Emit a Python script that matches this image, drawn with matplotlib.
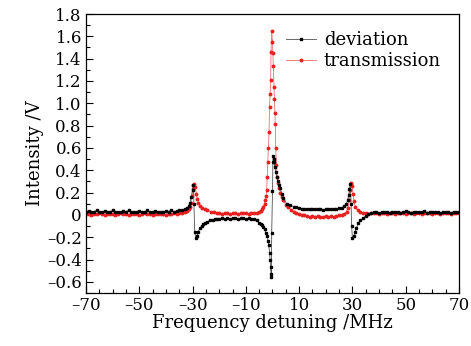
import numpy as np
import matplotlib
matplotlib.use('Agg')
import matplotlib.pyplot as plt
from matplotlib.ticker import MultipleLocator, FuncFormatter

plt.rcParams['font.family'] = 'DejaVu Serif'
plt.rcParams['mathtext.fontset'] = 'dejavuserif'

# deviation signal (black)
dev_x = (list(range(-70, -34))
         + [-34, -33, -32, -31.5, -31, -30.5, -30, -29.7, -29.5, -29.2, -28.8,
            -28.3, -27.9, -27.2, -26.6, -26, -25.3, -24.5, -23.5, -22.5, -21.5]
         + list(range(-21, -7))
         + [-7, -6, -5, -4.5, -4, -3.5, -3, -2.5, -2, -1.7, -1.4, -1.1, -0.9, -0.7,
            -0.55, -0.45, -0.3, 0.0, 0.15, 0.3, 0.45, 0.6, 0.9, 1.2, 1.6, 2.0, 2.4,
            2.8, 3.5, 4.1, 5.3, 6.5, 8, 9]
         + list(range(10, 25))
         + [25, 26, 27, 27.7, 28.2, 28.6, 28.9, 29.2, 29.5, 29.7, 30.0, 30.5, 31,
            31.5, 32.2, 33, 34, 35, 36]
         + list(range(37, 71)))
dev_y = [0.03, 0.035, 0.025, 0.03, 0.04, 0.03,
         0.025, 0.035, 0.03, 0.03, 0.04, 0.03,
         0.025, 0.03, 0.035, 0.03, 0.04, 0.03,
         0.025, 0.03, 0.035, 0.03, 0.03, 0.04,
         0.025, 0.03, 0.035, 0.03, 0.03, 0.025,
         0.035, 0.03, 0.04, 0.03, 0.035, 0.04,
         0.04, 0.05, 0.06, 0.08, 0.11, 0.16, 0.22, 0.27, 0.10, -0.15, -0.21,
         -0.19, -0.15, -0.12, -0.10, -0.085, -0.07, -0.06, -0.05, -0.045, -0.04,
         -0.04, -0.035, -0.03, -0.035, -0.03, -0.035, -0.03, -0.03, -0.035, -0.03,
         -0.03, -0.035, -0.03, -0.035,
         -0.04, -0.05, -0.07, -0.08, -0.09, -0.11, -0.13, -0.16, -0.19, -0.23,
         -0.27, -0.34, -0.40, -0.47, -0.53, -0.56, -0.16, 0.21, 0.47, 0.53,
         0.50, 0.47, 0.43, 0.38, 0.34, 0.30, 0.27, 0.24, 0.19, 0.15,
         0.10, 0.085, 0.075, 0.07,
         0.06, 0.055, 0.05, 0.055, 0.05, 0.05, 0.055, 0.05, 0.05, 0.045,
         0.05, 0.05, 0.055, 0.05, 0.055,
         0.06, 0.065, 0.08, 0.10, 0.13, 0.18, 0.23, 0.28, 0.10, -0.10, -0.21,
         -0.19, -0.15, -0.12, -0.07, -0.05, -0.03, -0.01, 0.01,
         0.02, 0.025, 0.03, 0.02, 0.025, 0.03,
         0.025, 0.02, 0.03, 0.025, 0.03, 0.02,
         0.025, 0.035, 0.025, 0.02, 0.03, 0.025,
         0.03, 0.025, 0.035, 0.02, 0.025, 0.03,
         0.025, 0.03, 0.02, 0.025, 0.03, 0.025,
         0.02, 0.03, 0.025, 0.025]

# transmission signal (red)
trans_x = (list(range(-70, -35))
           + [-35, -34, -33, -32, -31.5, -31, -30.6, -30.3, -30, -29.7, -29.4,
              -29.0, -28.6, -28.2, -27.8, -27.2, -26.5, -25.5, -24.5, -23, -22]
           + list(range(-21, -6))
           + [-6, -5, -4.5, -4, -3.5, -3, -2.7, -2.4, -2.2, -2.0, -1.8, -1.6, -1.3,
              -1.1, -0.9, -0.7, -0.55, -0.3, 0.0, 0.15, 0.3, 0.55, 0.7, 0.9, 1.05,
              1.2, 1.5, 1.8, 2.1, 2.5, 3.0, 3.5, 4.1, 5, 6, 7, 8, 9]
           + list(range(10, 27))
           + [27, 27.8, 28.3, 28.7, 29.0, 29.3, 29.6, 29.9, 30.2, 30.6, 31.1, 32, 33]
           + list(range(34, 71)))
trans_y = [0.005, 0.01, 0.0, 0.01, 0.005, 0.015, 0.005,
           0.0, 0.01, 0.005, 0.01, 0.0, 0.005, 0.015,
           0.005, 0.01, 0.0, 0.01, 0.005, 0.01, 0.0,
           0.005, 0.015, 0.005, 0.01, 0.0, 0.01, 0.005,
           0.01, 0.005, 0.0, 0.01, 0.005, 0.015, 0.01,
           0.015, 0.02, 0.025, 0.035, 0.05, 0.07, 0.11, 0.17, 0.23, 0.27, 0.28,
           0.25, 0.19, 0.14, 0.11, 0.08, 0.065, 0.05, 0.04, 0.03, 0.025,
           0.02, 0.015, 0.01, 0.02, 0.015, 0.01, 0.015, 0.02, 0.01, 0.015,
           0.02, 0.015, 0.01, 0.02, 0.015,
           0.02, 0.025, 0.035, 0.05, 0.07, 0.10, 0.13, 0.17, 0.22, 0.34,
           0.47, 0.60, 0.74, 0.97, 1.08, 1.21, 1.46, 1.65, 1.55, 1.45,
           1.33, 1.15, 1.04, 0.91, 0.81, 0.60, 0.45, 0.34, 0.29, 0.24,
           0.20, 0.16, 0.13, 0.09, 0.07, 0.045, 0.03, 0.015,
           0.005, 0.0, -0.005, -0.01, -0.015, -0.01, -0.015, -0.01, -0.015,
           -0.02, -0.01, -0.015, -0.01, -0.015, -0.01, -0.005, 0.0,
           0.01, 0.03, 0.06, 0.13, 0.22, 0.28, 0.29, 0.26, 0.19, 0.12, 0.07,
           0.04, 0.025,
           0.015, 0.02, 0.01, 0.015, 0.02, 0.015, 0.01,
           0.02, 0.015, 0.01, 0.015, 0.02, 0.01, 0.015,
           0.02, 0.015, 0.01, 0.02, 0.015, 0.01, 0.015,
           0.02, 0.01, 0.015, 0.02, 0.015, 0.01, 0.02,
           0.015, 0.01, 0.015, 0.02, 0.015, 0.01, 0.015,
           0.02, 0.015]

x_ticks = [-70, -50, -30, -10, 10, 30, 50, 70]

assert len(dev_x) == len(dev_y), (len(dev_x), len(dev_y))
assert len(trans_x) == len(trans_y), (len(trans_x), len(trans_y))

fig = plt.figure(figsize=(4.71, 3.46), dpi=100)
ax = fig.add_axes([0.1826, 0.1532, 0.7919, 0.8063])

ax.plot(dev_x, dev_y, color='#505050', lw=0.6, marker='s', ms=1.7,
        mfc='black', mec='black', label='deviation', zorder=3)
ax.plot(trans_x, trans_y, color='#f07070', lw=0.6, marker='o', ms=1.8,
        mfc='#e82020', mec='#e82020', label='transmission', zorder=2)

ax.set_xlim(-70, 70)
ax.set_ylim(-0.7, 1.8)
ax.set_xticks(x_ticks)
ax.xaxis.set_minor_locator(MultipleLocator(5))
ax.yaxis.set_major_locator(MultipleLocator(0.2))
ax.yaxis.set_minor_locator(MultipleLocator(0.1))

DASH = '\u2013'


def fmt_x(v, pos):
    return '%d' % round(v) if v >= 0 else DASH + '%d' % round(-v)


def fmt_y(v, pos):
    if abs(v) < 1e-9:
        return '0'
    return '%.1f' % v if v > 0 else DASH + '%.1f' % -v


ax.xaxis.set_major_formatter(FuncFormatter(fmt_x))
ax.yaxis.set_major_formatter(FuncFormatter(fmt_y))
ax.tick_params(which='both', direction='in', top=False, right=False,
               labelsize=12, width=0.8)
ax.tick_params(which='major', length=5, pad=3)
ax.tick_params(which='minor', length=3)
for s in ax.spines.values():
    s.set_linewidth(0.9)

ax.set_xlabel('Frequency detuning /MHz', fontsize=13, labelpad=0)
ax.set_ylabel('Intensity /V', fontsize=13, labelpad=2)

ax.legend(loc='upper right', frameon=False, fontsize=13, handlelength=1.7,
          handletextpad=0.4, labelspacing=0.15, borderaxespad=0.4,
          bbox_to_anchor=(0.99, 0.99))

fig.savefig('out.png', dpi=100)
